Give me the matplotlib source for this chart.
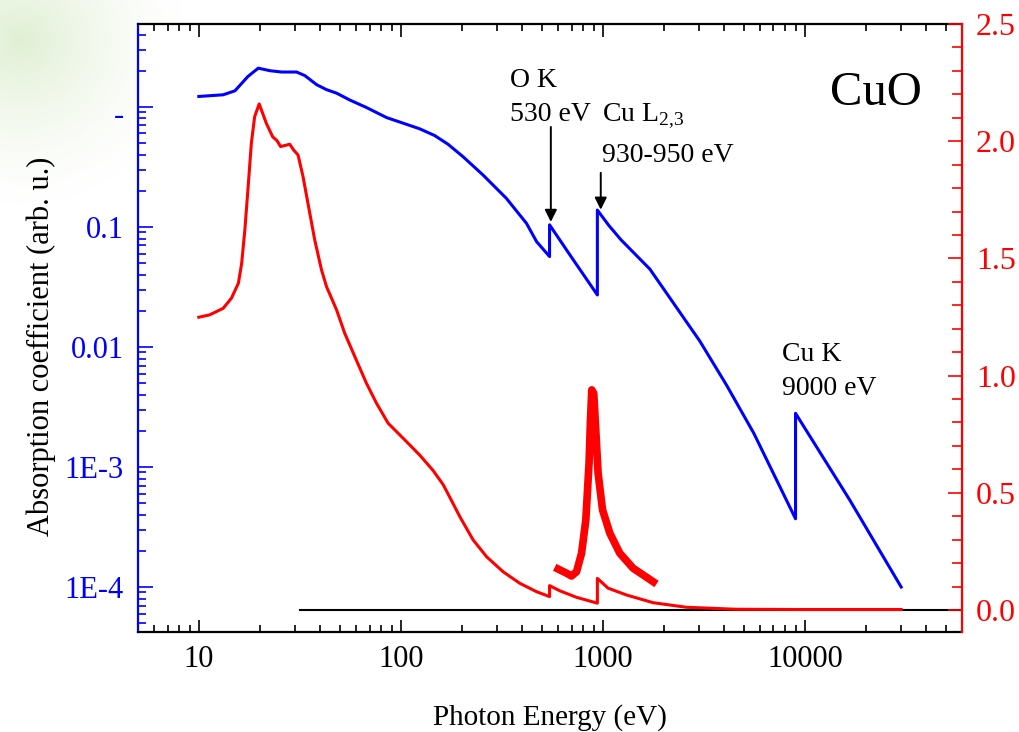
import numpy as np
import matplotlib.pyplot as plt
from matplotlib.ticker import FixedLocator, FixedFormatter, MultipleLocator, LogLocator, NullFormatter
from matplotlib.transforms import offset_copy

plt.rcParams['font.family'] = ['Liberation Serif', 'DejaVu Serif']
plt.rcParams['mathtext.fontset'] = 'custom'
plt.rcParams['mathtext.rm'] = 'Liberation Serif'

# blue: absorption coefficient (left, log axis)
e_blue = [10, 13.2, 15.1, 17.5, 19.7, 22.5, 25.7, 30.5, 33.5, 38.3, 42.9, 48.1,
          55.9, 67.6, 85, 102.7, 124, 147, 171, 203, 255, 333, 419, 470, 545,
          545, 687, 940, 940, 1070, 1230, 1710, 3020, 4100, 5600, 9000, 9000, 16700, 30000]
a_blue = [1.22, 1.26, 1.36, 1.79, 2.10, 2.0, 1.95, 1.95, 1.82, 1.53, 1.39, 1.30,
          1.14, 0.987, 0.814, 0.731, 0.656, 0.577, 0.489, 0.385, 0.271, 0.173, 0.107, 0.0754, 0.0566,
          0.104, 0.0585, 0.0271, 0.138, 0.103, 0.0781, 0.0445, 0.0112, 0.0048, 0.0019, 3.7e-4,
          2.8e-3, 5.3e-4, 1.0e-4]

# red: loss function (right, linear axis)
e_red = [10, 11.3, 13.2, 14.5, 15.7, 16.3, 16.9, 17.5, 18.2, 18.9, 19.9, 21.6, 23.2,
         24.4, 25.4, 28.2, 29.5, 31.0, 32.8, 35.2, 37.5, 40.5, 42.9, 48.1, 52.8, 59.2,
         67.6, 75.8, 86.5, 102.6, 124, 144.5, 162, 175, 196, 228, 266, 321, 388, 470,
         545, 545, 612, 741, 940, 940, 1062, 1310, 1775, 2595, 4590, 9440, 30000]
r_red = [1.249, 1.259, 1.287, 1.33, 1.394, 1.479, 1.621, 1.792, 1.991, 2.105, 2.159, 2.076, 2.019,
         2.002, 1.977, 1.987, 1.962, 1.941, 1.849, 1.706, 1.578, 1.451, 1.379, 1.280, 1.180, 1.081,
         0.967, 0.882, 0.797, 0.733, 0.661, 0.595, 0.535, 0.48, 0.398, 0.299, 0.227, 0.163, 0.114, 0.078,
         0.057, 0.104, 0.082, 0.054, 0.029, 0.135, 0.093, 0.064, 0.031, 0.0115, 0.003, 0.002, 0.002]

# thick red: Cu L edge region
e_edge = [578, 661, 700, 741, 785, 824, 855, 869, 882, 902, 923, 948, 997, 1084, 1214, 1413, 1845]
r_edge = [0.182, 0.157, 0.145, 0.163, 0.242, 0.384, 0.626, 0.811, 0.939, 0.924, 0.768, 0.583,
          0.427, 0.327, 0.242, 0.178, 0.111]

fig = plt.figure(figsize=(10.2, 7.32), dpi=100)

# faint green slide background in the top-left corner
bg = fig.add_axes([0, 0, 1, 1], zorder=-10)
yy, xx = np.mgrid[0:732, 0:1020]
d = np.hypot(xx - 20, yy - 40)
alpha = np.clip(1 - d / 170, 0, 1) ** 1.5 * 0.6
img = np.zeros((732, 1020, 4))
img[..., 0] = 0.80
img[..., 1] = 0.90
img[..., 2] = 0.72
img[..., 3] = alpha
bg.imshow(img, aspect='auto', extent=[0, 1, 0, 1])
bg.axis('off')

ax = fig.add_axes([0.1353, 0.1366, 0.8078, 0.8306])
ax.set_xscale('log')
ax.set_yscale('log')
ax.set_xlim(5, 60000)
ax.set_ylim(10 ** -4.375, 10 ** 0.69)

ax2 = ax.twinx()
ax2.set_ylim(-0.094, 2.5)

ax.plot(e_blue, a_blue, color='#0000ff', lw=2.2, zorder=3)
ax2.plot([31.6, 60000], [0, 0], color='black', lw=1.5, zorder=1)
ax2.plot(e_red, r_red, color='#ff0000', lw=2.2, zorder=2)
ax2.plot(e_edge, r_edge, color='#ff0000', lw=5.5, zorder=2, solid_capstyle='butt')

# x axis
ax.xaxis.set_major_locator(FixedLocator([10, 100, 1000, 10000]))
ax.xaxis.set_major_formatter(FixedFormatter(['10', '100', '1000', '10000']))
ax.xaxis.set_minor_locator(LogLocator(base=10, subs=np.arange(2, 10)))
ax.xaxis.set_minor_formatter(NullFormatter())
ax.tick_params(axis='x', which='both', direction='in', top=True, labelsize=22, pad=9, color='black')
ax.tick_params(axis='x', which='major', length=9, width=1.2)
ax.tick_params(axis='x', which='minor', length=5, width=1.2)
ax.set_xlabel('Photon Energy (eV)', fontsize=21, labelpad=22)

# left axis
ax.yaxis.set_major_locator(FixedLocator([1e-4, 1e-3, 1e-2, 1e-1, 1]))
ax.yaxis.set_major_formatter(FixedFormatter(['1E-4', '1E-3', '0.01', '0.1', '-']))
ax.yaxis.set_minor_locator(LogLocator(base=10, subs=np.arange(2, 10)))
ax.yaxis.set_minor_formatter(NullFormatter())
ax.tick_params(axis='y', which='both', direction='in', colors='#0000ff', labelsize=22, pad=10)
ax.tick_params(axis='y', which='major', length=11, width=1.2)
ax.tick_params(axis='y', which='minor', length=6, width=1.2)
ax.set_ylabel('Absorption coefficient (arb. u.)', fontsize=22, color='black')
ax.yaxis.set_label_coords(-0.1, 0.47)
# the "1" label shows as a dash sitting a bit low
for lab in ax.get_yticklabels():
    if lab.get_text() == '-':
        lab.set_transform(offset_copy(lab.get_transform(), fig=fig, x=0, y=-6, units='dots'))

# right axis
ax2.yaxis.set_major_locator(MultipleLocator(0.5))
ax2.yaxis.set_minor_locator(MultipleLocator(0.1))
ax2.yaxis.set_major_formatter(plt.FormatStrFormatter('%.1f'))
ax2.tick_params(axis='y', which='both', direction='in', colors='#ff0000', labelsize=23, pad=10)
ax2.tick_params(axis='y', which='major', length=10, width=1.2)
ax2.tick_params(axis='y', which='minor', length=7, width=1.2)

for s in ['top', 'bottom']:
    ax.spines[s].set_color('black')
    ax.spines[s].set_linewidth(1.6)
    ax2.spines[s].set_visible(False)
ax.spines['left'].set_color('#0000ff')
ax.spines['left'].set_linewidth(1.6)
ax.spines['right'].set_visible(False)
ax2.spines['left'].set_visible(False)
ax2.spines['right'].set_color('#ff0000')
ax2.spines['right'].set_linewidth(1.6)

# labels and arrows
fs = 20
ax.text(346, 1.47, 'O K', fontsize=fs, va='baseline')
ax.text(346, 0.764, '530 eV', fontsize=fs, va='baseline')
ax.text(988, 0.764, r'Cu L$_{\mathrm{2{,}3}}$', fontsize=fs, va='baseline')
ax.text(988, 0.348, '930-950 eV', fontsize=fs, va='baseline')
ax.text(7690, 7.64e-3, 'Cu K', fontsize=fs, va='baseline')
ax.text(7690, 3.98e-3, '9000 eV', fontsize=fs, va='baseline')
ax.text(13300, 1.04, 'CuO', fontsize=35, va='baseline')

arrow = dict(arrowstyle='-|>', color='black', lw=1.4, mutation_scale=18, shrinkA=0, shrinkB=0)
ax.annotate('', xy=(553, 0.110), xytext=(553, 0.68), arrowprops=arrow)
ax.annotate('', xy=(977, 0.139), xytext=(977, 0.282), arrowprops=arrow)

fig.savefig('out.png', dpi=100)
